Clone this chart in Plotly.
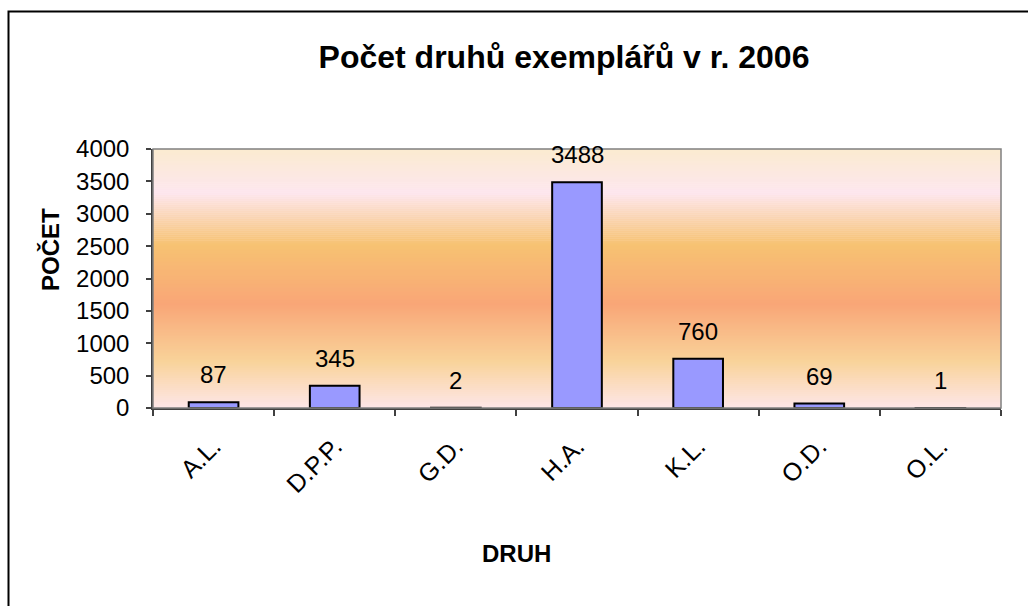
import numpy as np
import plotly.graph_objects as go

# data
categories = ["A.L.", "D.P.P.", "G.D.", "H.A.", "K.L.", "O.D.", "O.L."]
counts = [87, 345, 2, 3488, 760, 69, 1]
y_ticks = [0, 500, 1000, 1500, 2000, 2500, 3000, 3500, 4000]

FONT = "Liberation Sans, Arial, sans-serif"
W, H = 1028, 606
L, R, T, B = 153, 27, 149, 198   # plot area margins in px
PW, PH = W - L - R, H - T - B

# background gradient stops (fraction from bottom, colour)
stops = [
    (0.00, (253, 230, 232)),
    (0.18, (249, 211, 154)),
    (0.40, (249, 166, 119)),
    (0.63, (247, 194, 114)),
    (0.83, (253, 230, 238)),
    (1.00, (251, 235, 208)),
]


def grad_colour(f):
    fs = [s[0] for s in stops]
    rgb = [int(round(np.interp(f, fs, [s[1][i] for s in stops]))) for i in range(3)]
    return "rgb({},{},{})".format(*rgb)


def px_x(p):
    return (p - L) / PW


def px_y(p):
    return (H - B - p) / PH


shapes = []
n_bands = 130
for i in range(n_bands):
    y0 = i / n_bands
    y1 = min((i + 1) / n_bands + 0.002, 1)
    shapes.append(dict(type="rect", xref="paper", yref="paper", x0=0, x1=1,
                       y0=y0, y1=y1, line=dict(width=0),
                       fillcolor=grad_colour((i + 0.5) / n_bands), layer="below"))

# plot-area frame (grey)
shapes.append(dict(type="rect", xref="paper", yref="paper", x0=0, x1=1, y0=0, y1=1,
                   line=dict(color="#808080", width=1.5), layer="above"))

# outer chart border, runs off the right and bottom edge like in the source
shapes.append(dict(type="rect", xref="paper", yref="paper",
                   x0=px_x(8.5), x1=px_x(1040), y0=px_y(640), y1=px_y(11.5),
                   line=dict(color="black", width=2), layer="above"))

fig = go.Figure()
fig.add_trace(go.Bar(
    x=categories, y=counts,
    width=0.41,
    marker=dict(color="#9999FF", line=dict(color="black", width=2)),
    showlegend=False,
))

annotations = []
for c, v in zip(categories, counts):
    annotations.append(dict(x=c, y=v, xref="x", yref="y", text=str(v),
                            showarrow=False, yanchor="bottom", yshift=12,
                            font=dict(family=FONT, size=24, color="black")))

annotations.append(dict(xref="paper", yref="paper", x=px_x(516), y=px_y(553),
                        text="<b>DRUH</b>", showarrow=False,
                        xanchor="center", yanchor="middle",
                        font=dict(family=FONT, size=24, color="black")))
annotations.append(dict(xref="paper", yref="paper", x=px_x(50), y=px_y(250),
                        text="<b>POČET</b>", showarrow=False, textangle=-90,
                        xanchor="center", yanchor="middle",
                        font=dict(family=FONT, size=24, color="black")))

fig.update_layout(
    width=W, height=H,
    margin=dict(l=L, r=R, t=T, b=B),
    paper_bgcolor="white",
    plot_bgcolor="rgba(0,0,0,0)",
    title=dict(text="<b>Počet druhů exemplářů v r. 2006</b>",
               x=564 / W, xref="container", xanchor="center",
               y=1 - 57 / H, yref="container", yanchor="middle",
               font=dict(family=FONT, size=32, color="black")),
    shapes=shapes,
    annotations=annotations,
    xaxis=dict(
        type="category",
        tickangle=-45,
        tickson="boundaries",
        ticks="outside", ticklen=6, tickcolor="#404040", tickwidth=1.5,
        showline=True, linecolor="#404040", linewidth=1.5,
        showgrid=False,
        ticklabelstandoff=12,
        tickfont=dict(family=FONT, size=25, color="black"),
        range=[-0.5, 6.5],
    ),
    yaxis=dict(
        range=[0, 4000],
        tickvals=y_ticks,
        ticks="outside", ticklen=5, tickcolor="#404040", tickwidth=1.5,
        showline=True, linecolor="#404040", linewidth=1.5,
        showgrid=False, zeroline=False,
        ticklabelstandoff=12,
        tickfont=dict(family=FONT, size=24, color="black"),
    ),
)

# drop the default 8px page margin so the figure sits at the window origin
fig.write_html("out.html", config={"displayModeBar": False},
               post_script="document.body.style.margin='0';")
